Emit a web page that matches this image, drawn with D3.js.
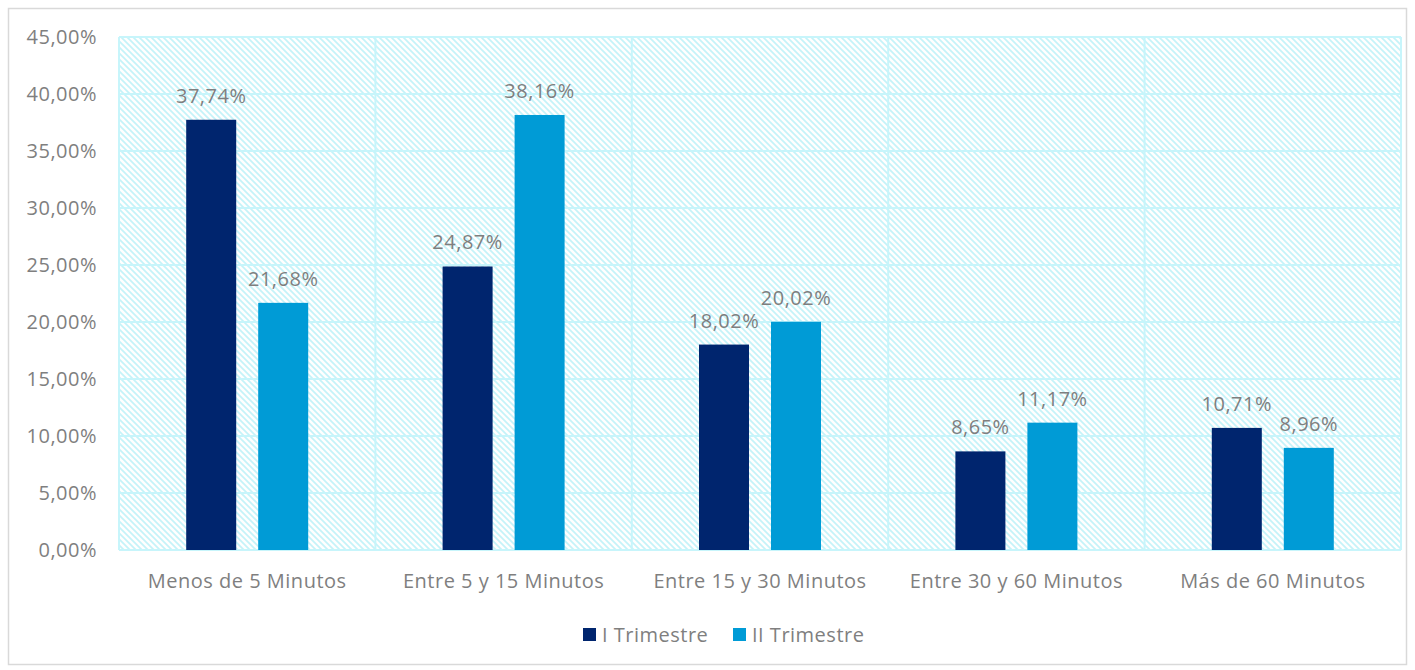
<!DOCTYPE html>
<html>
<head>
<meta charset="utf-8">
<script src="https://cdn.jsdelivr.net/npm/d3@7"></script>
<style>
  html, body { margin: 0; padding: 0; background: #fff; }
  svg { display: block; }
  text { font-family: "Open Sans", "Liberation Sans", sans-serif; fill: #7f7f7f; letter-spacing: 0.5px; }
</style>
</head>
<body>
<script>
// Tiempo de espera por trimestre
const categories = ["Menos de 5 Minutos", "Entre 5 y 15 Minutos", "Entre 15 y 30 Minutos", "Entre 30 y 60 Minutos", "Más de 60 Minutos"];
const seriesNames = ["I Trimestre", "II Trimestre"];
const trimestre1 = [37.74, 24.87, 18.02, 8.65, 10.71];
const trimestre2 = [21.68, 38.16, 20.02, 11.17, 8.96];
const yTicks = [0, 5, 10, 15, 20, 25, 30, 35, 40, 45];
const colors = ["#00256e", "#009bd6"];

const W = 1415, H = 670;
const plot = { left: 119, right: 1401, top: 37, bottom: 550 };
const fontSize = 20;

const svg = d3.select("body").append("svg").attr("width", W).attr("height", H);

// Hatched background pattern of the plot area
const defs = svg.append("defs");
const pat = defs.append("pattern")
  .attr("id", "hatch").attr("patternUnits", "userSpaceOnUse")
  .attr("width", 6).attr("height", 6);
pat.append("rect").attr("width", 6).attr("height", 6).attr("fill", "#ffffff");
pat.append("path")
  .attr("d", "M-1,-1 L7,7 M-1,5 L1,7 M5,-1 L7,1")
  .attr("stroke", "#c4f3f9").attr("stroke-width", 1.7);

// Outer chart frame
svg.append("rect")
  .attr("x", 8.5).attr("y", 8.5).attr("width", W - 17).attr("height", H - 14)
  .attr("fill", "none").attr("stroke", "#d9d9d9").attr("stroke-width", 1.5);

const x = d3.scaleBand().domain(categories).range([plot.left, plot.right]).padding(0);
const y = d3.scaleLinear().domain([0, 45]).range([plot.bottom, plot.top]);

svg.append("rect")
  .attr("x", plot.left).attr("y", plot.top)
  .attr("width", plot.right - plot.left).attr("height", plot.bottom - plot.top)
  .attr("fill", "url(#hatch)");

// Gridlines
const grid = svg.append("g").attr("stroke", "#c7f5fb").attr("stroke-width", 2);
grid.selectAll("line.h").data(yTicks).join("line")
  .attr("x1", plot.left).attr("x2", plot.right)
  .attr("y1", d => y(d)).attr("y2", d => y(d));
const vEdges = categories.map(c => x(c)).concat([plot.right]);
grid.selectAll("line.v").data(vEdges).join("line")
  .attr("x1", d => d).attr("x2", d => d)
  .attr("y1", plot.top).attr("y2", plot.bottom);

// Y axis labels
const fmt = v => d3.format(".2f")(v).replace(".", ",") + "%";
svg.append("g").selectAll("text").data(yTicks).join("text")
  .attr("x", 97).attr("y", d => y(d)).attr("dy", "0.35em")
  .attr("text-anchor", "end").attr("font-size", fontSize)
  .text(d => fmt(d));

// Bars, two per category
const bw = 50, gap = 22;
const offsets = [-(bw / 2 + gap / 2), bw / 2 + gap / 2];
const series = [trimestre1, trimestre2];
series.forEach((vals, si) => {
  const g = svg.append("g");
  g.selectAll("rect").data(vals).join("rect")
    .attr("x", (d, i) => x(categories[i]) + x.bandwidth() / 2 + offsets[si] - bw / 2)
    .attr("width", bw)
    .attr("y", d => y(d))
    .attr("height", d => y(0) - y(d))
    .attr("fill", colors[si]);
  g.selectAll("text").data(vals).join("text")
    .attr("x", (d, i) => x(categories[i]) + x.bandwidth() / 2 + offsets[si])
    .attr("y", d => y(d) - 17)
    .attr("text-anchor", "middle").attr("font-size", fontSize)
    .text(d => fmt(d));
});

// Category labels
svg.append("g").selectAll("text").data(categories).join("text")
  .attr("x", d => x(d) + x.bandwidth() / 2).attr("y", 588)
  .attr("text-anchor", "middle").attr("font-size", fontSize)
  .text(d => d);

// Legend
const legendX = [583, 733];
const lg = svg.append("g");
seriesNames.forEach((name, i) => {
  lg.append("rect").attr("x", legendX[i]).attr("y", 628)
    .attr("width", 13).attr("height", 13).attr("fill", colors[i]);
  lg.append("text").attr("x", legendX[i] + 19).attr("y", 635).attr("dy", "0.35em")
    .attr("font-size", fontSize).text(name);
});
</script>
</body>
</html>
